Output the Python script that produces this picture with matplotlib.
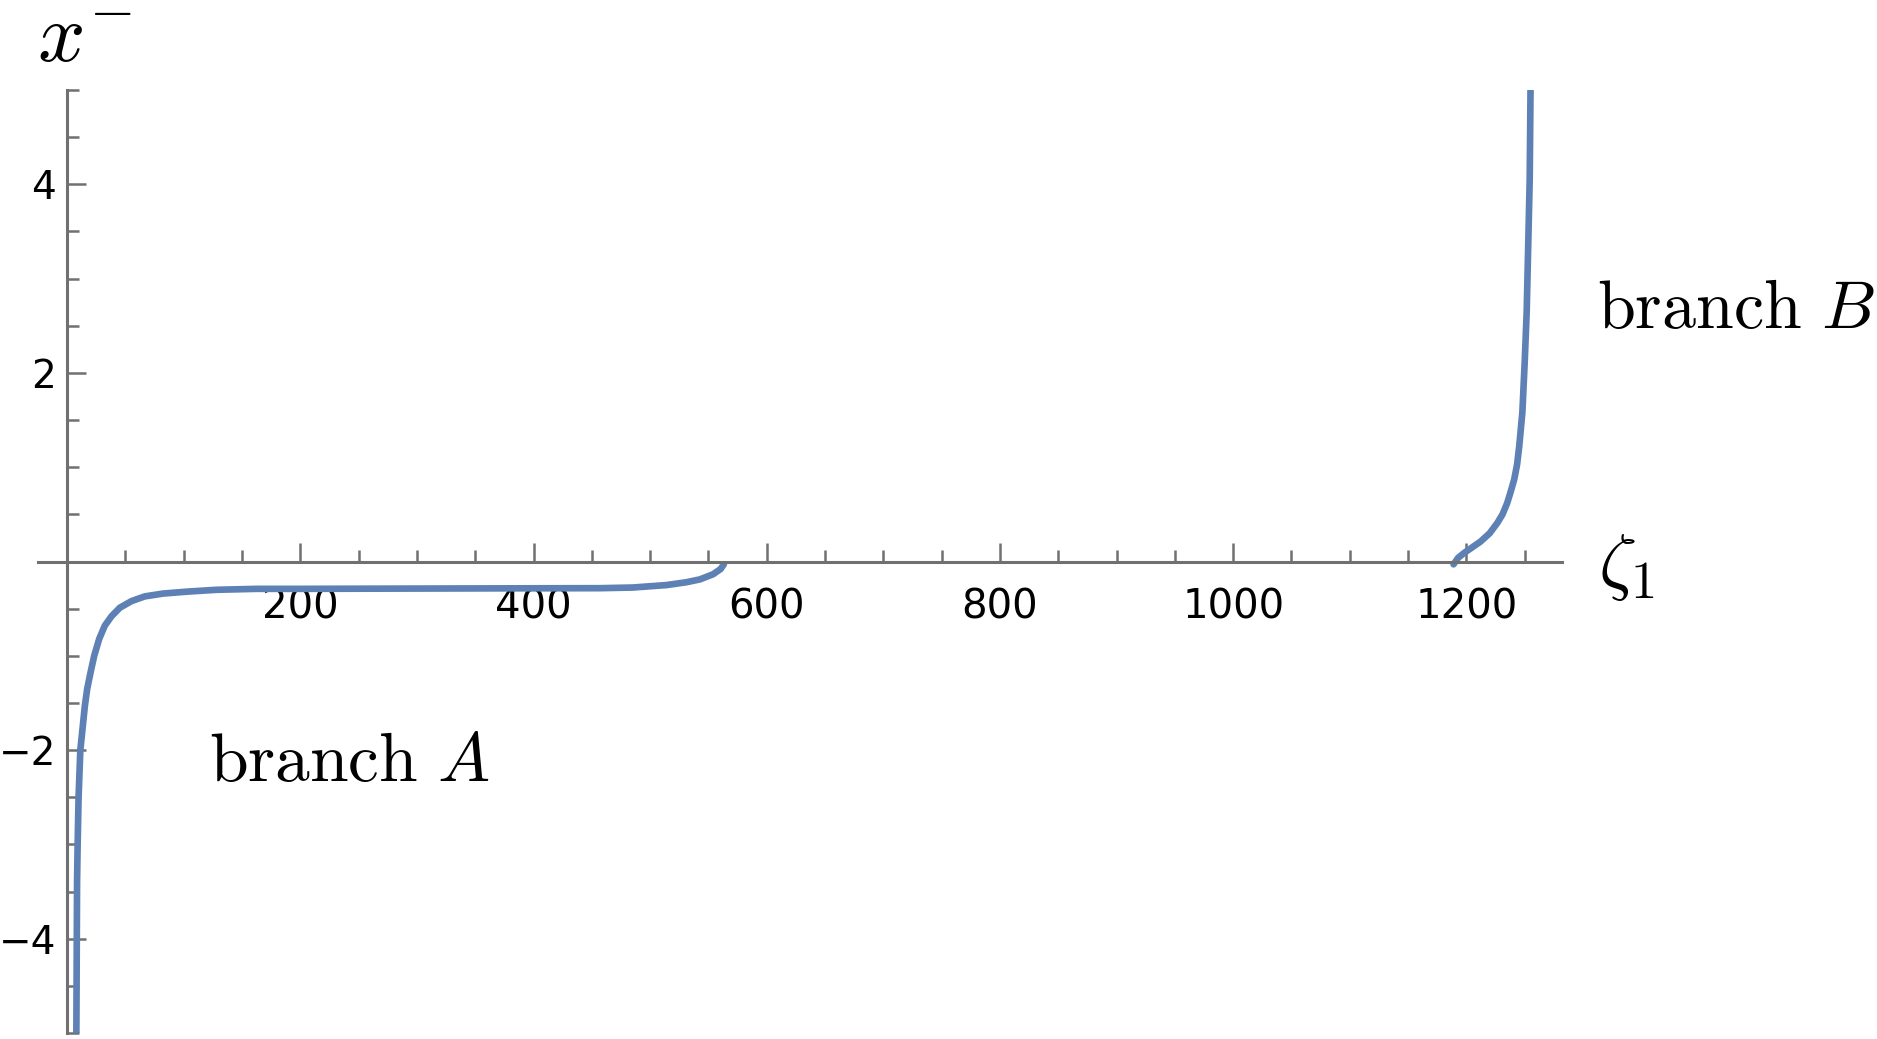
import numpy as np
import matplotlib
matplotlib.use('Agg')
import matplotlib.pyplot as plt
from matplotlib.ticker import FixedLocator

plt.rcParams['mathtext.fontset'] = 'cm'
plt.rcParams['font.family'] = ['DejaVu Sans']

# branch A
zeta_A = [7.9, 8.2, 8.5, 9.0, 9.8, 11.3, 12.3, 13.7, 15.2, 17.2, 20.0, 23.2,
          27.5, 32.3, 38.1, 45.2, 55.2, 66.6, 82.3, 102.4, 128.1, 162.4,
          200, 300, 400, 457, 485, 514, 531, 542.6, 554, 560.4, 563.2]
x_A = [-5.0, -4.2, -3.4, -3.0, -2.5, -2.0, -1.88, -1.71, -1.53, -1.35, -1.18, -1.00,
       -0.82, -0.68, -0.58, -0.49, -0.42, -0.37, -0.34, -0.32, -0.30, -0.29,
       -0.29, -0.287, -0.284, -0.283, -0.276, -0.25, -0.22, -0.19, -0.135, -0.08, -0.03]

# branch B
zeta_B = [1189, 1193, 1198, 1205, 1212, 1220, 1226.6, 1231, 1235, 1238, 1241,
          1243.5, 1245.3, 1248, 1250, 1251.7, 1253, 1254.3, 1255]
x_B = [-0.03, 0.04, 0.09, 0.15, 0.21, 0.30, 0.41, 0.50, 0.62, 0.74, 0.87,
       1.03, 1.22, 1.58, 2.11, 2.64, 3.34, 4.05, 5.0]

xticks = [200, 400, 600, 800, 1000, 1200]
yticks = [-4, -2, 2, 4]

AXIS = '#707070'
BLUE = '#5E81B5'

fig = plt.figure(figsize=(18.77, 10.39), dpi=100)
ax = fig.add_axes([38 / 1877, 6 / 1039, (1562 - 38) / 1877, (1033 - 90) / 1039])

ax.plot(zeta_A, x_A, color=BLUE, lw=4.8, solid_capstyle='round',
        solid_joinstyle='round')
ax.plot(zeta_B, x_B, color=BLUE, lw=4.8, solid_capstyle='round',
        solid_joinstyle='round')

ax.set_xlim(-25, 1282)
ax.set_ylim(-5, 5)

for s in ['top', 'right']:
    ax.spines[s].set_visible(False)
ax.spines['left'].set_position(('data', 0))
ax.spines['bottom'].set_position(('data', 0))
for s in ['left', 'bottom']:
    ax.spines[s].set_color(AXIS)
    ax.spines[s].set_linewidth(2.2)

ax.xaxis.set_major_locator(FixedLocator(xticks))
ax.yaxis.set_major_locator(FixedLocator(yticks))
xminor = [v for v in np.arange(50, 1300, 50) if v not in xticks]
yminor = [v for v in np.arange(-5, 5.01, 0.5) if v not in yticks and v != 0]
ax.xaxis.set_minor_locator(FixedLocator(xminor))
ax.yaxis.set_minor_locator(FixedLocator(yminor))

ax.tick_params(axis='both', which='both', direction='in', color=AXIS,
               width=1.8, labelcolor='black')
ax.tick_params(axis='both', which='major', length=13.5)
ax.tick_params(axis='both', which='minor', length=8.5)
ax.tick_params(axis='x', which='major', pad=19, labelsize=29)
ax.tick_params(axis='y', which='major', pad=8, labelsize=28)

# axis labels, kept just inside the top edge
ax.text(-26, 5.30, r'$x^{-}$', fontsize=60, ha='left', va='baseline', clip_on=False)
ax.text(1313, -0.26, r'$\zeta_1$', fontsize=54, ha='left', va='baseline', clip_on=False)
ax.text(122, -2.33, r'$\mathrm{branch}\ A$', fontsize=50, ha='left', va='baseline')
ax.text(1312, 2.48, r'$\mathrm{branch}\ B$', fontsize=49, ha='left', va='baseline',
        clip_on=False)

fig.savefig('out.png', dpi=100)
